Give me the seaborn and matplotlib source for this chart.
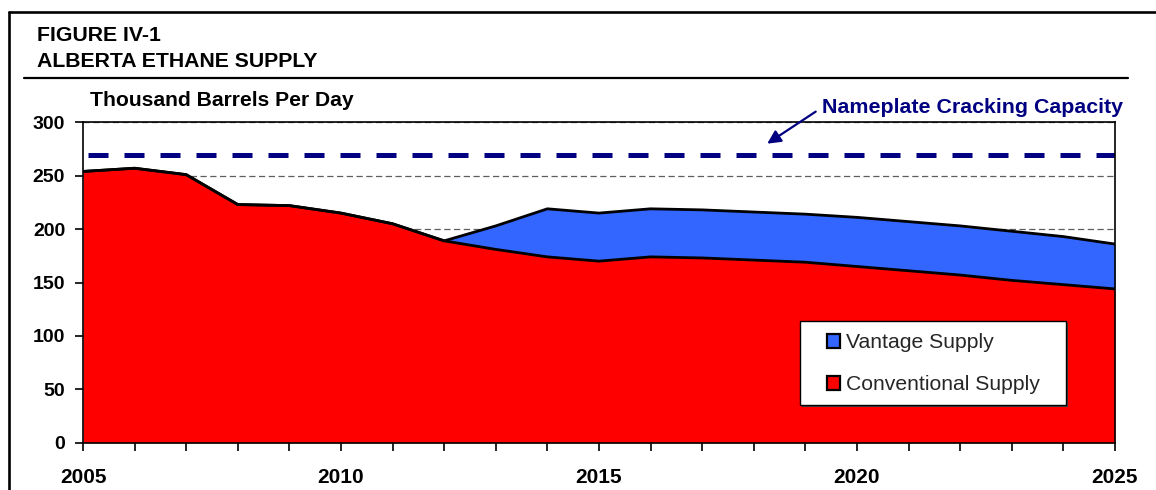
import numpy as np
import pandas as pd
import matplotlib
matplotlib.use("Agg")
import matplotlib.pyplot as plt
from matplotlib.patches import Patch, Rectangle
from matplotlib.lines import Line2D
from matplotlib.ticker import MultipleLocator
import seaborn as sns

# ---- data (thousand barrels per day) ----
years = list(range(2005, 2026))
conventional_supply = [254, 257, 251, 223, 222, 215, 205, 189, 181, 174, 170,
                       174, 173, 171, 169, 165, 161, 157, 152, 148, 144]
vantage_supply = [0, 0, 0, 0, 0, 0, 0, 0, 22, 45, 45,
                  45, 45, 45, 45, 46, 46, 46, 46, 45, 42]
cracking_capacity = 269
y_ticks = [0, 50, 100, 150, 200, 250, 300]
x_ticks = [2005, 2010, 2015, 2020, 2025]

df = pd.DataFrame({"year": years,
                   "conventional": conventional_supply,
                   "vantage": vantage_supply})
df["total"] = df["conventional"] + df["vantage"]

sns.set_theme(style="white")
plt.rcParams["font.family"] = ["Liberation Sans", "DejaVu Sans"]

RED = "#FF0000"
BLUE = "#3366FF"
NAVY = "#000080"

fig = plt.figure(figsize=(11.56, 4.90), dpi=100)
ax = fig.add_axes([0.0718, 0.0965, 0.8927, 0.6539])

# stacked areas
ax.fill_between(df["year"], 0, df["conventional"], color=RED, lw=0, zorder=1)
ax.fill_between(df["year"], df["conventional"], df["total"], color=BLUE, lw=0, zorder=1)
sns.lineplot(data=df, x="year", y="conventional", ax=ax, color="black",
             lw=2.0, zorder=3, legend=False)
sns.lineplot(data=df, x="year", y="total", ax=ax, color="black",
             lw=2.0, zorder=3, legend=False)

# nameplate capacity
ax.plot([years[0], years[-1]], [cracking_capacity, cracking_capacity],
        color=NAVY, lw=3.6, linestyle=(6.2, (4, 3.2)), solid_capstyle="butt",
        dash_capstyle="butt", zorder=4)

ax.set_xlim(years[0], years[-1])
ax.set_ylim(0, 300)
ax.set_xticks(x_ticks)
ax.xaxis.set_minor_locator(MultipleLocator(1))
ax.set_yticks(y_ticks)
ax.set_xlabel("")
ax.set_ylabel("")

# gridlines behind the areas
ax.set_axisbelow(True)
ax.yaxis.grid(True, color="#5e5e5e", lw=0.9, linestyle=(0, (5, 2.8)))
ax.xaxis.grid(False)

for s in ax.spines.values():
    s.set_color("black")
    s.set_linewidth(1.2)
    s.set_zorder(5)

ax.tick_params(axis="both", which="both", direction="out", color="black",
               width=1.2, length=5.8, bottom=True, left=True)
ax.tick_params(axis="y", pad=7, labelsize=14)
ax.tick_params(axis="x", which="major", pad=12.5, labelsize=15)
ax.tick_params(axis="x", which="minor", labelbottom=False)
for lab in ax.get_xticklabels() + ax.get_yticklabels():
    lab.set_fontweight("bold")
    lab.set_color("black")

# legend with its own box
shadow = Rectangle((0.6948 + 0.002, 0.1176 - 0.005), 0.2578, 0.262,
                   transform=ax.transAxes, facecolor="#404040",
                   edgecolor="none", zorder=5.8)
box = Rectangle((0.6948, 0.1176), 0.2578, 0.262, transform=ax.transAxes,
                facecolor="white", edgecolor="black", lw=1.0, zorder=5.9)
ax.add_patch(shadow)
ax.add_patch(box)
handles = [Patch(facecolor=BLUE, edgecolor="black", lw=1.6, label="Vantage Supply"),
           Patch(facecolor=RED, edgecolor="black", lw=1.6, label="Conventional Supply")]
leg = ax.legend(handles=handles, loc="upper left", bbox_to_anchor=(0.7205, 0.342),
                frameon=False, fontsize=15.2, handlelength=0.62, handleheight=0.62,
                handletextpad=0.3, labelspacing=1.09, borderpad=0, borderaxespad=0)
leg.set_zorder(6)

# annotation for capacity line
ax.annotate("", xy=(2018.26, 280), xytext=(2019.2, 310),
            arrowprops=dict(arrowstyle="-|>", color=NAVY, lw=1.6,
                            mutation_scale=20, shrinkA=0, shrinkB=0),
            annotation_clip=False, zorder=6)
ax.text(2019.33, 309, "Nameplate Cracking Capacity", color=NAVY,
        fontsize=15.4, fontweight="bold", ha="left", va="baseline", clip_on=False)

# titles
W, H = 1156, 490
fig.text(37 / W, 1 - 40.7 / H, "FIGURE IV-1", fontsize=15.3, fontweight="bold",
         ha="left", va="baseline", color="black")
fig.text(37 / W, 1 - 66.7 / H, "ALBERTA ETHANE SUPPLY", fontsize=15.3,
         fontweight="bold", ha="left", va="baseline", color="black")
fig.text(90 / W, 1 - 106 / H, "Thousand Barrels Per Day", fontsize=15.2,
         fontweight="bold", ha="left", va="baseline", color="black")

# page frame and rule under the title
fig.add_artist(Line2D([9 / W, 1.0], [1 - 12 / H, 1 - 12 / H], color="black", lw=1.9))
fig.add_artist(Line2D([9 / W, 9 / W], [1 - 12 / H, 0.0], color="black", lw=1.9))
fig.add_artist(Line2D([24 / W, 1128 / W], [1 - 78 / H, 1 - 78 / H], color="black", lw=1.6))

fig.savefig("out.png", dpi=100, facecolor="white")
